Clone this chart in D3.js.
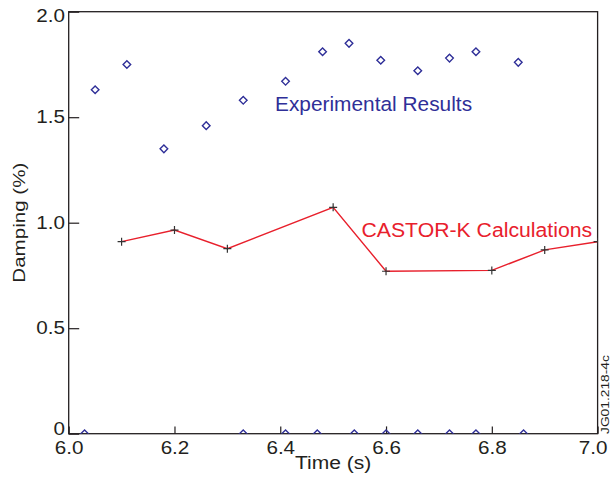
<!DOCTYPE html>
<html>
<head>
<meta charset="utf-8">
<script src="https://cdn.jsdelivr.net/npm/d3@7"></script>
<style>
  html, body { margin: 0; padding: 0; background: #fff; }
  svg { display: block; font-family: "Liberation Sans", Arial, Helvetica, sans-serif; }
</style>
</head>
<body>
<svg id="chart" width="612" height="479"></svg>
<script>
// ---- data ----
const timeExp = [6.05, 6.11, 6.18, 6.26, 6.33, 6.41, 6.48, 6.53, 6.59, 6.66, 6.72, 6.77, 6.85];
const dampExp = [1.63, 1.75, 1.35, 1.46, 1.58, 1.67, 1.81, 1.85, 1.77, 1.72, 1.78, 1.81, 1.76];
const timeZero = [6.03, 6.33, 6.41, 6.47, 6.54, 6.60, 6.66, 6.72, 6.77, 6.86];
const dampZero = [0, 0, 0, 0, 0, 0, 0, 0, 0, 0];
const timeCalc = [6.1, 6.2, 6.3, 6.5, 6.6, 6.8, 6.9, 7.0];
const dampCalc = [0.91, 0.965, 0.877, 1.073, 0.77, 0.774, 0.871, 0.91];
const xTicks = [6.0, 6.2, 6.4, 6.6, 6.8, 7.0];
const xTickLabels = ["6.0", "6.2", "6.4", "6.6", "6.8", "7.0"];
const yTicks = [0, 0.5, 1.0, 1.5, 2.0];
const yTickLabels = ["0", "0.5", "1.0", "1.5", "2.0"];
const xTitle = "Time (s)";
const yTitle = "Damping (%)";
const expLabel = "Experimental Results";
const calcLabel = "CASTOR-K Calculations";
const figId = "JG01.218-4c";

// ---- layout ----
const W = 612, H = 479;
const m = { left: 68.7, right: 14.4, top: 11.7, bottom: 45.3 };
const iw = W - m.left - m.right, ih = H - m.top - m.bottom;
const blue = "#2f2f98", red = "#e8202c", ink = "#231f20";

const svg = d3.select("#chart");
const x = d3.scaleLinear().domain([6.0, 7.0]).range([m.left, m.left + iw]);
const y = d3.scaleLinear().domain([0, 2.0]).range([m.top + ih, m.top]);

svg.append("defs").append("clipPath").attr("id", "plotclip")
  .append("rect").attr("x", m.left).attr("y", m.top).attr("width", iw).attr("height", ih);

// axes
const xAxis = d3.axisBottom(x).tickValues(xTicks)
  .tickFormat((d, i) => xTickLabels[i]).tickSizeInner(-7.3).tickSizeOuter(0);
const gx = svg.append("g").attr("transform", `translate(0,${m.top + ih})`).call(xAxis);
gx.select(".domain").remove();
gx.selectAll(".tick line").attr("stroke", ink).attr("stroke-width", 1.2);
gx.selectAll(".tick text")
  .attr("y", null).attr("dy", null)
  .attr("fill", ink).attr("font-size", 17.5)
  .attr("transform", (d, i) => `translate(${i === xTicks.length - 1 ? -5 : 0},20.3) scale(1.18,1)`);

const yAxis = d3.axisLeft(y).tickValues(yTicks)
  .tickFormat((d, i) => yTickLabels[i]).tickSizeInner(-10.5).tickSizeOuter(0);
const gy = svg.append("g").attr("transform", `translate(${m.left},0)`).call(yAxis);
gy.select(".domain").remove();
gy.selectAll(".tick line").attr("stroke", ink).attr("stroke-width", 1.2);
gy.selectAll(".tick text")
  .attr("x", null)
  .attr("fill", ink).attr("font-size", 17.5)
  .attr("transform", (d, i) => {
    const dy = i === 0 ? -5 : (i === yTicks.length - 1 ? 3.8 : 0);
    return `translate(-3.7,${dy}) scale(1.18,1)`;
  });

// frame
svg.append("rect").attr("x", m.left).attr("y", m.top).attr("width", iw).attr("height", ih)
  .attr("fill", "none").attr("stroke", ink).attr("stroke-width", 1.3);

// plot contents (clipped)
const plot = svg.append("g").attr("clip-path", "url(#plotclip)");

const calc = timeCalc.map((t, i) => [t, dampCalc[i]]);
plot.append("path").datum(calc)
  .attr("d", d3.line().x(d => x(d[0])).y(d => y(d[1])))
  .attr("fill", "none").attr("stroke", red).attr("stroke-width", 1.4);

const pr = 4;
plot.selectAll("path.plus").data(calc).join("path").attr("class", "plus")
  .attr("d", d => `M${x(d[0]) - pr},${y(d[1])}H${x(d[0]) + pr}M${x(d[0])},${y(d[1]) - pr}V${y(d[1]) + pr}`)
  .attr("stroke", "#333").attr("stroke-width", 1.2).attr("fill", "none");

const dr = 3.8;
const diamond = (cx, cy) => `M${cx},${cy - dr}L${cx + dr},${cy}L${cx},${cy + dr}L${cx - dr},${cy}Z`;
const exp = timeExp.map((t, i) => [t, dampExp[i]]).concat(timeZero.map((t, i) => [t, dampZero[i]]));
plot.selectAll("path.dia").data(exp).join("path").attr("class", "dia")
  .attr("d", d => diamond(x(d[0]), y(d[1])))
  .attr("fill", "none").attr("stroke", blue).attr("stroke-width", 1.4);

// annotations
svg.append("text").attr("transform", "translate(275,110.5) scale(1.07,1)")
  .attr("font-size", 19.5).attr("fill", blue).text(expLabel);
svg.append("text").attr("transform", "translate(361.5,236.7) scale(1.02,1)")
  .attr("font-size", 20.8).attr("fill", red).text(calcLabel);

// axis titles
svg.append("text").attr("transform", `translate(${m.left + iw / 2},469.3) scale(1.15,1)`)
  .attr("text-anchor", "middle").attr("font-size", 18.3).attr("fill", ink).text(xTitle);
svg.append("text").attr("transform", `translate(25,${m.top + ih / 2}) rotate(-90) scale(1.19,1)`)
  .attr("text-anchor", "middle").attr("font-size", 17.3).attr("fill", ink).text(yTitle);

// figure id
svg.append("text").attr("transform", "translate(609.3,434) rotate(-90) scale(1.2,1)")
  .attr("text-anchor", "start").attr("font-size", 11.5).attr("fill", ink).text(figId);
</script>
</body>
</html>
